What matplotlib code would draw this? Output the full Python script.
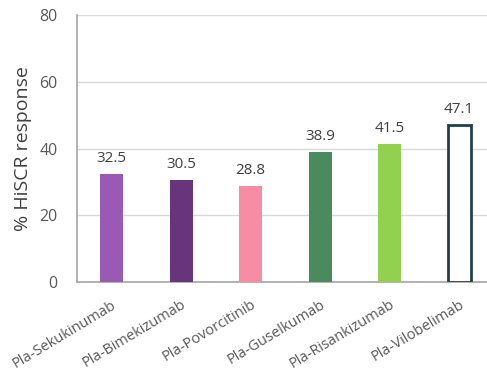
import matplotlib
matplotlib.use("Agg")
import matplotlib.pyplot as plt

plt.rcParams['font.family'] = ['Open Sans', 'DejaVu Sans']

categories = ["Pla-Sekukinumab", "Pla-Bimekizumab", "Pla-Povorcitinib",
              "Pla-Guselkumab", "Pla-Risankizumab", "Pla-Vilobelimab"]
values = [32.5, 30.5, 28.8, 38.9, 41.5, 47.1]
yticks = [0, 20, 40, 60, 80]

fill_colors = ["#9B59B6", "#68357C", "#F68DA5", "#4B8A5C", "#92D050", "white"]
edge_colors = ["#9B59B6", "#68357C", "#F68DA5", "#4B8A5C", "#92D050", "#243F50"]
line_widths = [0, 0, 0, 0, 0, 2.0]

fig = plt.figure(figsize=(4.87, 3.76), dpi=100)
ax = fig.add_axes([0.158, 0.25, 0.856, 0.71])

x = range(len(categories))
ax.bar(x, values, width=0.33, color=fill_colors, edgecolor=edge_colors,
       linewidth=line_widths, zorder=3)
for xi, v in zip(x, values):
    ax.text(xi, v + 2.4, f"{v:.1f}", ha="center", va="bottom",
            fontsize=11, color="#404040")

ax.set_xlim(-0.5, len(categories) - 0.5)
ax.set_ylim(0, 80)
ax.set_yticks(yticks)
ax.set_yticklabels([str(t) for t in yticks], fontsize=11.5, color="#595959")
ax.set_xticks(list(x))
ax.set_xticklabels(categories, rotation=31, ha="right", rotation_mode="anchor",
                   fontsize=10.5, color="#595959")
ax.tick_params(axis="y", length=0, pad=14)
ax.tick_params(axis="x", length=0, pad=11)
ax.set_ylabel("% HiSCR response", fontsize=14, color="#404040", labelpad=5)

ax.grid(axis="y", color="#D9D9D9", linewidth=1, zorder=0)
for side in ["top", "right"]:
    ax.spines[side].set_visible(False)
ax.spines["left"].set_color("#A6A6A6")
ax.spines["bottom"].set_color("#A6A6A6")
ax.spines["left"].set_linewidth(1.2)
ax.spines["bottom"].set_linewidth(1.2)

fig.savefig("out.png", dpi=100)
